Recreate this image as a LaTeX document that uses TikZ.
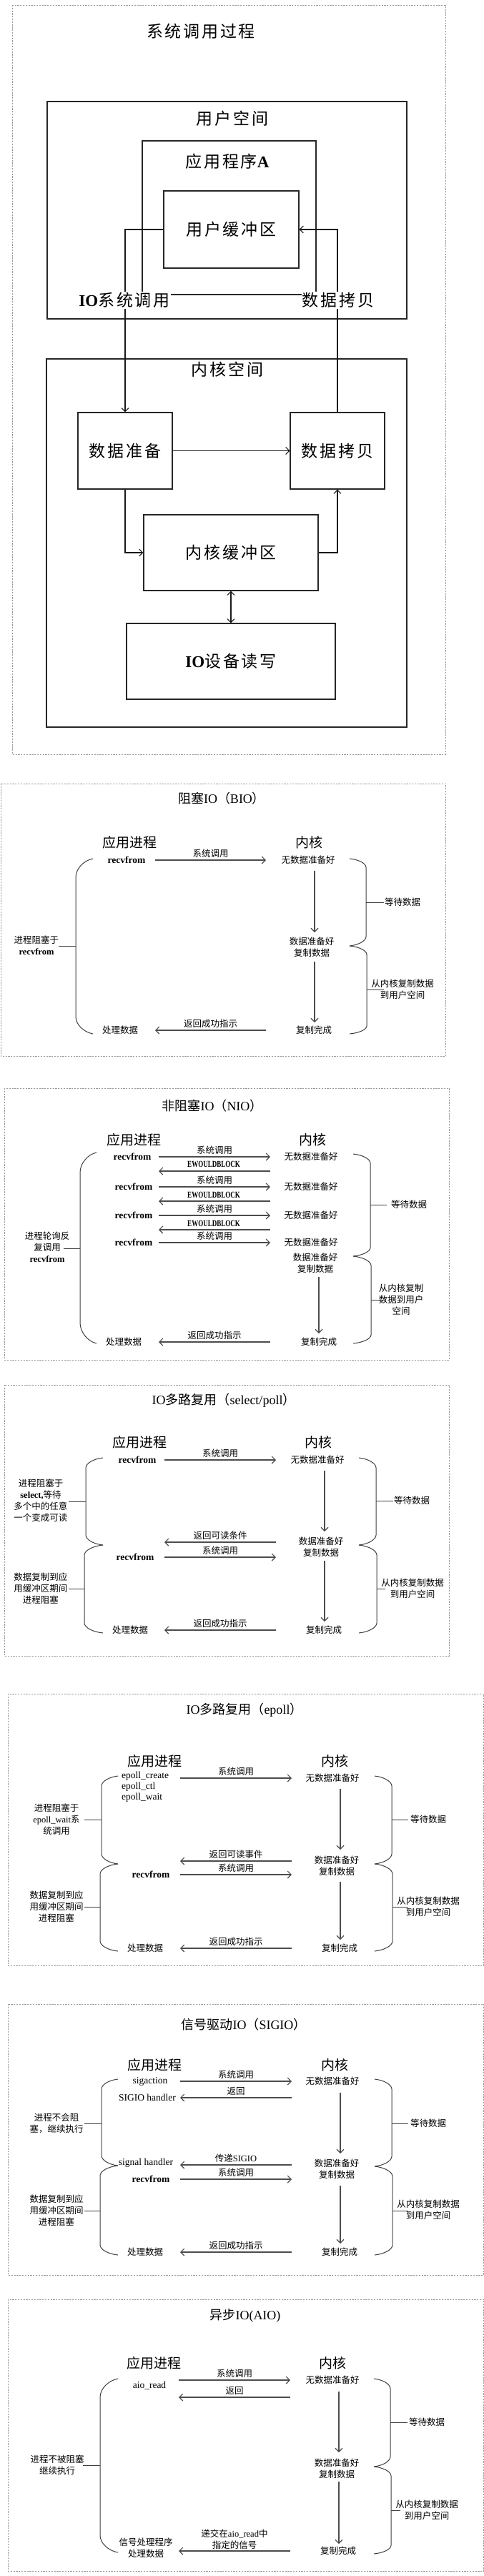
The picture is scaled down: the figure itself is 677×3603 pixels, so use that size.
\documentclass[tikz,border=0pt]{standalone}
\usepackage{fontspec}
\usepackage{graphicx}
\setmainfont{Noto Sans CJK SC}
\newfontfamily\lat{Liberation Serif}
\newfontfamily\cjksp[LetterSpace=12]{Noto Sans CJK SC}
\usetikzlibrary{arrows.meta}
\newcommand\BrC[6]{%
  \draw[brc] (#1,#3) .. controls ({#1+0.55*(#2-#1)},{#3+0.1*(#4-#3)}) and (#2,{#4-0.45*(#4-#3)}) .. (#2,#4)
    -- (#2,#5) .. controls (#2,{#5+0.45*(#6-#5)}) and ({#1+0.55*(#2-#1)},{#6-0.1*(#6-#5)}) .. (#1,#6);}
\newcommand\EWB{\scalebox{0.72}[1]{EWOULDBLOCK}}
\tikzset{
  dbox/.style={draw=black!40, dash pattern=on 2.2pt off 1.6pt, line width=0.7pt},
  tbox/.style={draw=black!85, line width=1.1pt, rectangle, inner sep=0pt},
  tlab/.style={font=\fontsize{23}{26}\selectfont\cjksp, inner sep=1pt},
  tarr/.style={draw=black!90, line width=1.1pt, -{Straight Barb[length=5pt,width=10pt]}},
  ttl/.style={font=\fontsize{18}{22}\selectfont, inner sep=1pt},
  hdr/.style={font=\fontsize{19}{22}\selectfont, inner sep=1pt},
  sm/.style={font=\fontsize{12.5}{16}\selectfont, align=center, inner sep=1pt},
  code/.style={font=\fontsize{13.5}{15}\selectfont\lat\bfseries, inner sep=1pt},
  codem/.style={font=\fontsize{13.5}{15}\selectfont\lat, inner sep=1pt},
  ew/.style={font=\fontsize{12.5}{14}\selectfont\lat\bfseries, inner sep=1pt},
  arr/.style={draw=black!70, line width=1.1pt, -{Straight Barb[length=5pt,width=10pt]}},
  brc/.style={draw=black!75, line width=1pt},
}
\begin{document}
\begin{tikzpicture}[x=1pt,y=-1pt]
\fill[white] (0,0) rectangle (677,3603);
\useasboundingbox (0,0) rectangle (677,3603);

%% ===== Section 0: system call process =====
\draw[dbox] (17,7) rectangle (623,1055);
\node[tlab] (t0) at (281,44) {系统调用过程};
\draw[tbox] (66,142) rectangle (569,446);
\draw[tbox] (199,197) rectangle (442,412);
\draw[tbox] (65,502) rectangle (569,1017);
\node[tlab] (us) at (325,166) {用户空间};
\node[tlab] (appA) at (318,226) {应用程序{\lat\bfseries A}};
\node[tlab] (ks) at (318,517) {内核空间};
\node[tbox, tlab, minimum width=189pt, minimum height=108pt] (ubuf) at (323.5,321) {用户缓冲区};
\node[tbox, tlab, minimum width=132pt, minimum height=107pt] (prep) at (175,630.5) {数据准备};
\node[tbox, tlab, minimum width=132pt, minimum height=107pt] (copyk) at (472,630.5) {数据拷贝};
\node[tbox, tlab, minimum width=244pt, minimum height=106pt] (kbuf) at (323,773) {内核缓冲区};
\node[tbox, tlab, minimum width=292pt, minimum height=106pt] (dev) at (323,925) {{\lat\bfseries IO}设备读写};
\draw[tarr] (ubuf.west) -| (prep.north);
\draw[tarr] (copyk.north) |- (ubuf.east);
\draw[tarr] (prep.east) -- (copyk.west);
\draw[tarr] (prep.south) |- (kbuf.west);
\draw[tarr] (kbuf.east) -| (copyk.south);
\draw[tarr, {Straight Barb[length=5pt,width=10pt]}-{Straight Barb[length=5pt,width=10pt]}] (kbuf.south) -- (dev.north);
\node[tlab, fill=white] (iosc) at (174,420) {{\lat\bfseries IO}系统调用};
\node[tlab, fill=white] (dcp) at (473,420) {数据拷贝};

%% ===== Section 1: BIO =====
\draw[dbox] (1,1096) rectangle (623,1477);
\node[ttl] (t1) at (310,1117) {阻塞{\lat IO}（{\lat BIO}）};
\node[hdr] (a1) at (181,1178) {应用进程};
\node[hdr] (k1) at (432,1178) {内核};
\coordinate (L1) at (217,0); \coordinate (R1) at (372,0);
\node[code] (r1) at (177,1203) {recvfrom};
\node[sm] (n1) at (431,1203) {无数据准备好};
\draw[arr] (r1 -| L1) -- node[sm, above=2pt] (s1a) {系统调用} (r1 -| R1);
\coordinate (v1a) at (440,1218); \coordinate (v1b) at (440,1304);
\draw[arr] (v1a) -- (v1b);
\node[sm] (rd1) at (436,1325) {数据准备好\\复制数据};
\coordinate (v1c) at (440,1345); \coordinate (v1d) at (440,1430);
\draw[arr] (v1c) -- (v1d);
\node[sm] (d1) at (439,1441) {复制完成};
\node[sm] (p1) at (168,1441) {处理数据};
\draw[arr] (d1 -| R1) -- node[sm, above=2pt] (s1b) {返回成功指示} (d1 -| L1);
\BrC{130}{106}{1201}{1227}{1422}{1446}
\draw[brc] (106,1323) -- (82,1323);
\node[sm] (lb1) at (51,1322) {进程阻塞于\\{\lat\bfseries recvfrom}};
\BrC{489}{512}{1201}{1213}{1310}{1323}
\BrC{489}{513}{1323}{1335}{1435}{1446}
\draw[brc] (512,1262) -- (537,1262);
\node[sm] (rb1a) at (563,1262) {等待数据};
\draw[brc] (513,1384) -- (537,1384);
\node[sm] (rb1b) at (563,1384) {从内核复制数据\\到用户空间};

%% ===== Section 2: NIO =====
\draw[dbox] (6,1522) rectangle (628,1902);
\node[ttl] (t2) at (297,1547) {非阻塞{\lat IO}（{\lat NIO}）};
\node[hdr] (a2) at (187,1594) {应用进程};
\node[hdr] (k2) at (437,1594) {内核};
\coordinate (L2) at (222,0); \coordinate (R2) at (378,0);
\node[code] (r2a) at (185,1618) {recvfrom};
\node[code] (r2b) at (187,1660) {recvfrom};
\node[code] (r2c) at (187,1700) {recvfrom};
\node[code] (r2d) at (187,1738) {recvfrom};
\node[sm] (n2a) at (435,1618) {无数据准备好};
\node[sm] (n2b) at (435,1660) {无数据准备好};
\node[sm] (n2c) at (435,1700) {无数据准备好};
\node[sm] (n2d) at (435,1738) {无数据准备好};
\draw[arr] (r2a -| L2) -- node[sm, above=2pt] (s2a) {系统调用} (r2a -| R2);
\draw[arr] (r2b -| L2) -- node[sm, above=2pt] (s2b) {系统调用} (r2b -| R2);
\draw[arr] (r2c -| L2) -- node[sm, above=2pt] (s2c) {系统调用} (r2c -| R2);
\draw[arr] (r2d -| L2) -- node[sm, above=2pt] (s2d) {系统调用} (r2d -| R2);
\node[ew] (e2a) at (299,1628) {\EWB};
\node[ew] (e2b) at (299,1671) {\EWB};
\node[ew] (e2c) at (299,1711) {\EWB};
\coordinate (e2ay) at (0,1638); \coordinate (e2by) at (0,1680); \coordinate (e2cy) at (0,1720);
\draw[arr] (e2ay -| R2) -- (e2ay -| L2);
\draw[arr] (e2by -| R2) -- (e2by -| L2);
\draw[arr] (e2cy -| R2) -- (e2cy -| L2);
\node[sm] (rd2) at (441,1767) {数据准备好\\复制数据};
\coordinate (v2a) at (446,1786); \coordinate (v2b) at (446,1865);
\draw[arr] (v2a) -- (v2b);
\node[sm] (d2) at (446,1877) {复制完成};
\node[sm] (p2) at (173,1877) {处理数据};
\draw[arr] (d2 -| R2) -- node[sm, above=2pt] (s2e) {返回成功指示} (d2 -| L2);
\BrC{135}{112}{1612}{1640}{1850}{1879}
\draw[brc] (112,1746) -- (89,1746);
\node[sm] (lb2) at (66,1744) {进程轮询反\\复调用\\{\lat\bfseries recvfrom}};
\BrC{494}{518}{1614}{1627}{1745}{1757}
\BrC{494}{519}{1757}{1770}{1867}{1879}
\draw[brc] (518,1685) -- (541,1685);
\node[sm] (rb2a) at (572,1685) {等待数据};
\draw[brc] (519,1818) -- (539,1818);
\node[sm] (rb2b) at (561,1818) {从内核复制\\数据到用户\\空间};

%% ===== Section 3: select/poll =====
\draw[dbox] (6,1937) rectangle (628,2316);
\node[ttl] (t3) at (313,1959) {{\lat IO}多路复用（{\lat select/poll}）};
\node[hdr] (a3) at (195,2017) {应用进程};
\node[hdr] (k3) at (445,2017) {内核};
\coordinate (L3) at (230,0); \coordinate (R3) at (386,0);
\node[code] (r3a) at (192,2042) {recvfrom};
\node[sm] (n3) at (444,2042) {无数据准备好};
\draw[arr] (r3a -| L3) -- node[sm, above=2pt] (s3a) {系统调用} (r3a -| R3);
\coordinate (v3a) at (454,2057); \coordinate (v3b) at (454,2142);
\draw[arr] (v3a) -- (v3b);
\node[sm] (rd3) at (449,2164) {数据准备好\\复制数据};
\coordinate (c3y) at (0,2157);
\draw[arr] (c3y -| R3) -- node[sm, above=2pt] (s3b) {返回可读条件} (c3y -| L3);
\node[code] (r3b) at (189,2178) {recvfrom};
\draw[arr] (r3b -| L3) -- node[sm, above=2pt] (s3c) {系统调用} (r3b -| R3);
\coordinate (v3c) at (454,2183); \coordinate (v3d) at (454,2268);
\draw[arr] (v3c) -- (v3d);
\node[sm] (d3) at (453,2280) {复制完成};
\node[sm] (p3) at (182,2280) {处理数据};
\draw[arr] (d3 -| R3) -- node[sm, above=2pt] (s3d) {返回成功指示} (d3 -| L3);
\BrC{144}{120}{2039}{2053}{2147}{2161}
\BrC{144}{118}{2161}{2175}{2270}{2284}
\draw[brc] (120,2100) -- (96,2100);
\node[sm] (lb3a) at (57,2099) {进程阻塞于\\{\lat\bfseries select,}等待\\多个中的任意\\一个变成可读};
\draw[brc] (118,2222) -- (96,2222);
\node[sm] (lb3b) at (57,2222) {数据复制到应\\用缓冲区期间\\进程阻塞};
\BrC{502}{526}{2039}{2053}{2147}{2161}
\BrC{502}{527}{2161}{2175}{2270}{2284}
\draw[brc] (526,2099) -- (550,2099);
\node[sm] (rb3a) at (576,2099) {等待数据};
\draw[brc] (527,2222) -- (539,2222);
\node[sm] (rb3b) at (577,2222) {从内核复制数据\\到用户空间};

%% ===== Section 4: epoll =====
\draw[dbox] (11,2369) rectangle (676.5,2749);
\node[ttl] (t4) at (342,2392) {{\lat IO}多路复用（{\lat epoll}）};
\node[hdr] (a4) at (216,2463) {应用进程};
\node[hdr] (k4) at (468,2463) {内核};
\coordinate (L4) at (252,0); \coordinate (R4) at (408,0);
\node[codem, align=left, anchor=west] (ep) at (169,2499) {epoll\_create\\epoll\_ctl\\epoll\_wait};
\node[sm] (n4) at (465,2487) {无数据准备好};
\draw[arr] (n4 -| L4) -- node[sm, above=2pt] (s4a) {系统调用} (n4 -| R4);
\coordinate (v4a) at (476,2502); \coordinate (v4b) at (476,2587);
\draw[arr] (v4a) -- (v4b);
\coordinate (c4b) at (0,2603);
\draw[arr] (c4b -| R4) -- node[sm, above=2pt] (s4b) {返回可读事件} (c4b -| L4);
\node[sm] (rd4) at (471,2610) {数据准备好\\复制数据};
\node[code] (r4) at (211,2622) {recvfrom};
\draw[arr] (r4 -| L4) -- node[sm, above=2pt] (s4c) {系统调用} (r4 -| R4);
\coordinate (v4c) at (476,2632); \coordinate (v4d) at (476,2713);
\draw[arr] (v4c) -- (v4d);
\node[sm] (d4) at (475,2725) {复制完成};
\node[sm] (p4) at (203,2725) {处理数据};
\draw[arr] (d4 -| R4) -- node[sm, above=2pt] (s4d) {返回成功指示} (d4 -| L4);
\BrC{165}{142}{2484}{2498}{2593}{2607}
\BrC{165}{140}{2607}{2621}{2715}{2729}
\draw[brc] (142,2545) -- (118,2545);
\node[sm] (lb4a) at (79,2545) {进程阻塞于\\{\lat epoll\_wait}系\\统调用};
\draw[brc] (140,2667) -- (118,2667);
\node[sm] (lb4b) at (79,2667) {数据复制到应\\用缓冲区期间\\进程阻塞};
\BrC{524}{548}{2484}{2498}{2593}{2607}
\BrC{524}{549}{2607}{2621}{2715}{2729}
\draw[brc] (548,2545) -- (571,2545);
\node[sm] (rb4a) at (599,2545) {等待数据};
\draw[brc] (549,2667) -- (571,2667);
\node[sm] (rb4b) at (599,2667) {从内核复制数据\\到用户空间};

%% ===== Section 5: SIGIO =====
\draw[dbox] (11,2803) rectangle (676.5,3182);
\node[ttl] (t5) at (341,2832) {信号驱动{\lat IO}（{\lat SIGIO}）};
\node[hdr] (a5) at (216,2888) {应用进程};
\node[hdr] (k5) at (468,2888) {内核};
\coordinate (L5) at (252,0); \coordinate (R5) at (408,0);
\node[codem] (sg) at (210,2911) {sigaction};
\node[sm] (n5) at (465,2911) {无数据准备好};
\draw[arr] (sg -| L5) -- node[sm, above=2pt] (s5a) {系统调用} (sg -| R5);
\node[codem] (sh) at (206,2934) {SIGIO handler};
\draw[arr] (sh -| R5) -- node[sm, above=2pt] (s5b) {返回} (sh -| L5);
\coordinate (v5a) at (476,2927); \coordinate (v5b) at (476,3012);
\draw[arr] (v5a) -- (v5b);
\coordinate (c5c) at (0,3028);
\draw[arr] (c5c -| R5) -- node[sm, above=2pt] (s5c) {传递{\lat SIGIO}} (c5c -| L5);
\node[codem] (sgh) at (204,3025) {signal handler};
\node[sm] (rd5) at (471,3034) {数据准备好\\复制数据};
\node[code] (r5) at (211,3048) {recvfrom};
\draw[arr] (r5 -| L5) -- node[sm, above=2pt] (s5d) {系统调用} (r5 -| R5);
\coordinate (v5c) at (476,3057); \coordinate (v5d) at (476,3138);
\draw[arr] (v5c) -- (v5d);
\node[sm] (d5) at (475,3150) {复制完成};
\node[sm] (p5) at (203,3150) {处理数据};
\draw[arr] (d5 -| R5) -- node[sm, above=2pt] (s5e) {返回成功指示} (d5 -| L5);
\BrC{165}{142}{2908}{2922}{3015}{3029}
\BrC{165}{140}{3029}{3043}{3140}{3154}
\draw[brc] (142,2970) -- (118,2970);
\node[sm] (lb5a) at (79,2970) {进程不会阻\\塞，继续执行};
\draw[brc] (140,3092) -- (118,3092);
\node[sm] (lb5b) at (79,3092) {数据复制到应\\用缓冲区期间\\进程阻塞};
\BrC{524}{548}{2908}{2922}{3016}{3030}
\BrC{524}{549}{3030}{3044}{3140}{3154}
\draw[brc] (548,2970) -- (571,2970);
\node[sm] (rb5a) at (599,2970) {等待数据};
\draw[brc] (549,3092) -- (571,3092);
\node[sm] (rb5b) at (599,3091) {从内核复制数据\\到用户空间};

%% ===== Section 6: AIO =====
\draw[dbox] (11,3216) rectangle (676.5,3596);
\node[ttl] (t6) at (343,3239) {异步{\lat IO(AIO)}};
\node[hdr] (a6) at (215,3305) {应用进程};
\node[hdr] (k6) at (465,3305) {内核};
\coordinate (L6) at (250,0); \coordinate (R6) at (406,0);
\node[codem] (ar) at (209,3337) {aio\_read};
\node[sm] (n6) at (465,3329) {无数据准备好};
\draw[arr] (n6 -| L6) -- node[sm, above=2pt] (s6a) {系统调用} (n6 -| R6);
\coordinate (c6b) at (0,3353);
\draw[arr] (c6b -| R6) -- node[sm, above=2pt] (s6b) {返回} (c6b -| L6);
\coordinate (v6a) at (474,3345); \coordinate (v6b) at (474,3430);
\draw[arr] (v6a) -- (v6b);
\node[sm] (rd6) at (471,3453) {数据准备好\\复制数据};
\coordinate (v6c) at (474,3471); \coordinate (v6d) at (474,3558);
\draw[arr] (v6c) -- (v6d);
\node[sm] (d6) at (473,3568) {复制完成};
\node[sm] (p6) at (204,3564) {信号处理程序\\处理数据};
\draw[arr] (d6 -| R6) -- (d6 -| L6);
\node[sm] (s6c) at (328,3552) {递交在{\lat aio\_read}中\\指定的信号};
\BrC{165}{140}{3327}{3353}{3546}{3570}
\draw[brc] (140,3448) -- (116,3448);
\node[sm] (lb6) at (80,3448) {进程不被阻塞\\继续执行};
\BrC{523}{546}{3327}{3341}{3436}{3450}
\BrC{523}{547}{3450}{3463}{3560}{3572}
\draw[brc] (546,3388) -- (570,3388);
\node[sm] (rb6a) at (597,3388) {等待数据};
\draw[brc] (547,3511) -- (560,3511);
\node[sm] (rb6b) at (597,3511) {从内核复制数据\\到用户空间};
\end{tikzpicture}
\end{document}
